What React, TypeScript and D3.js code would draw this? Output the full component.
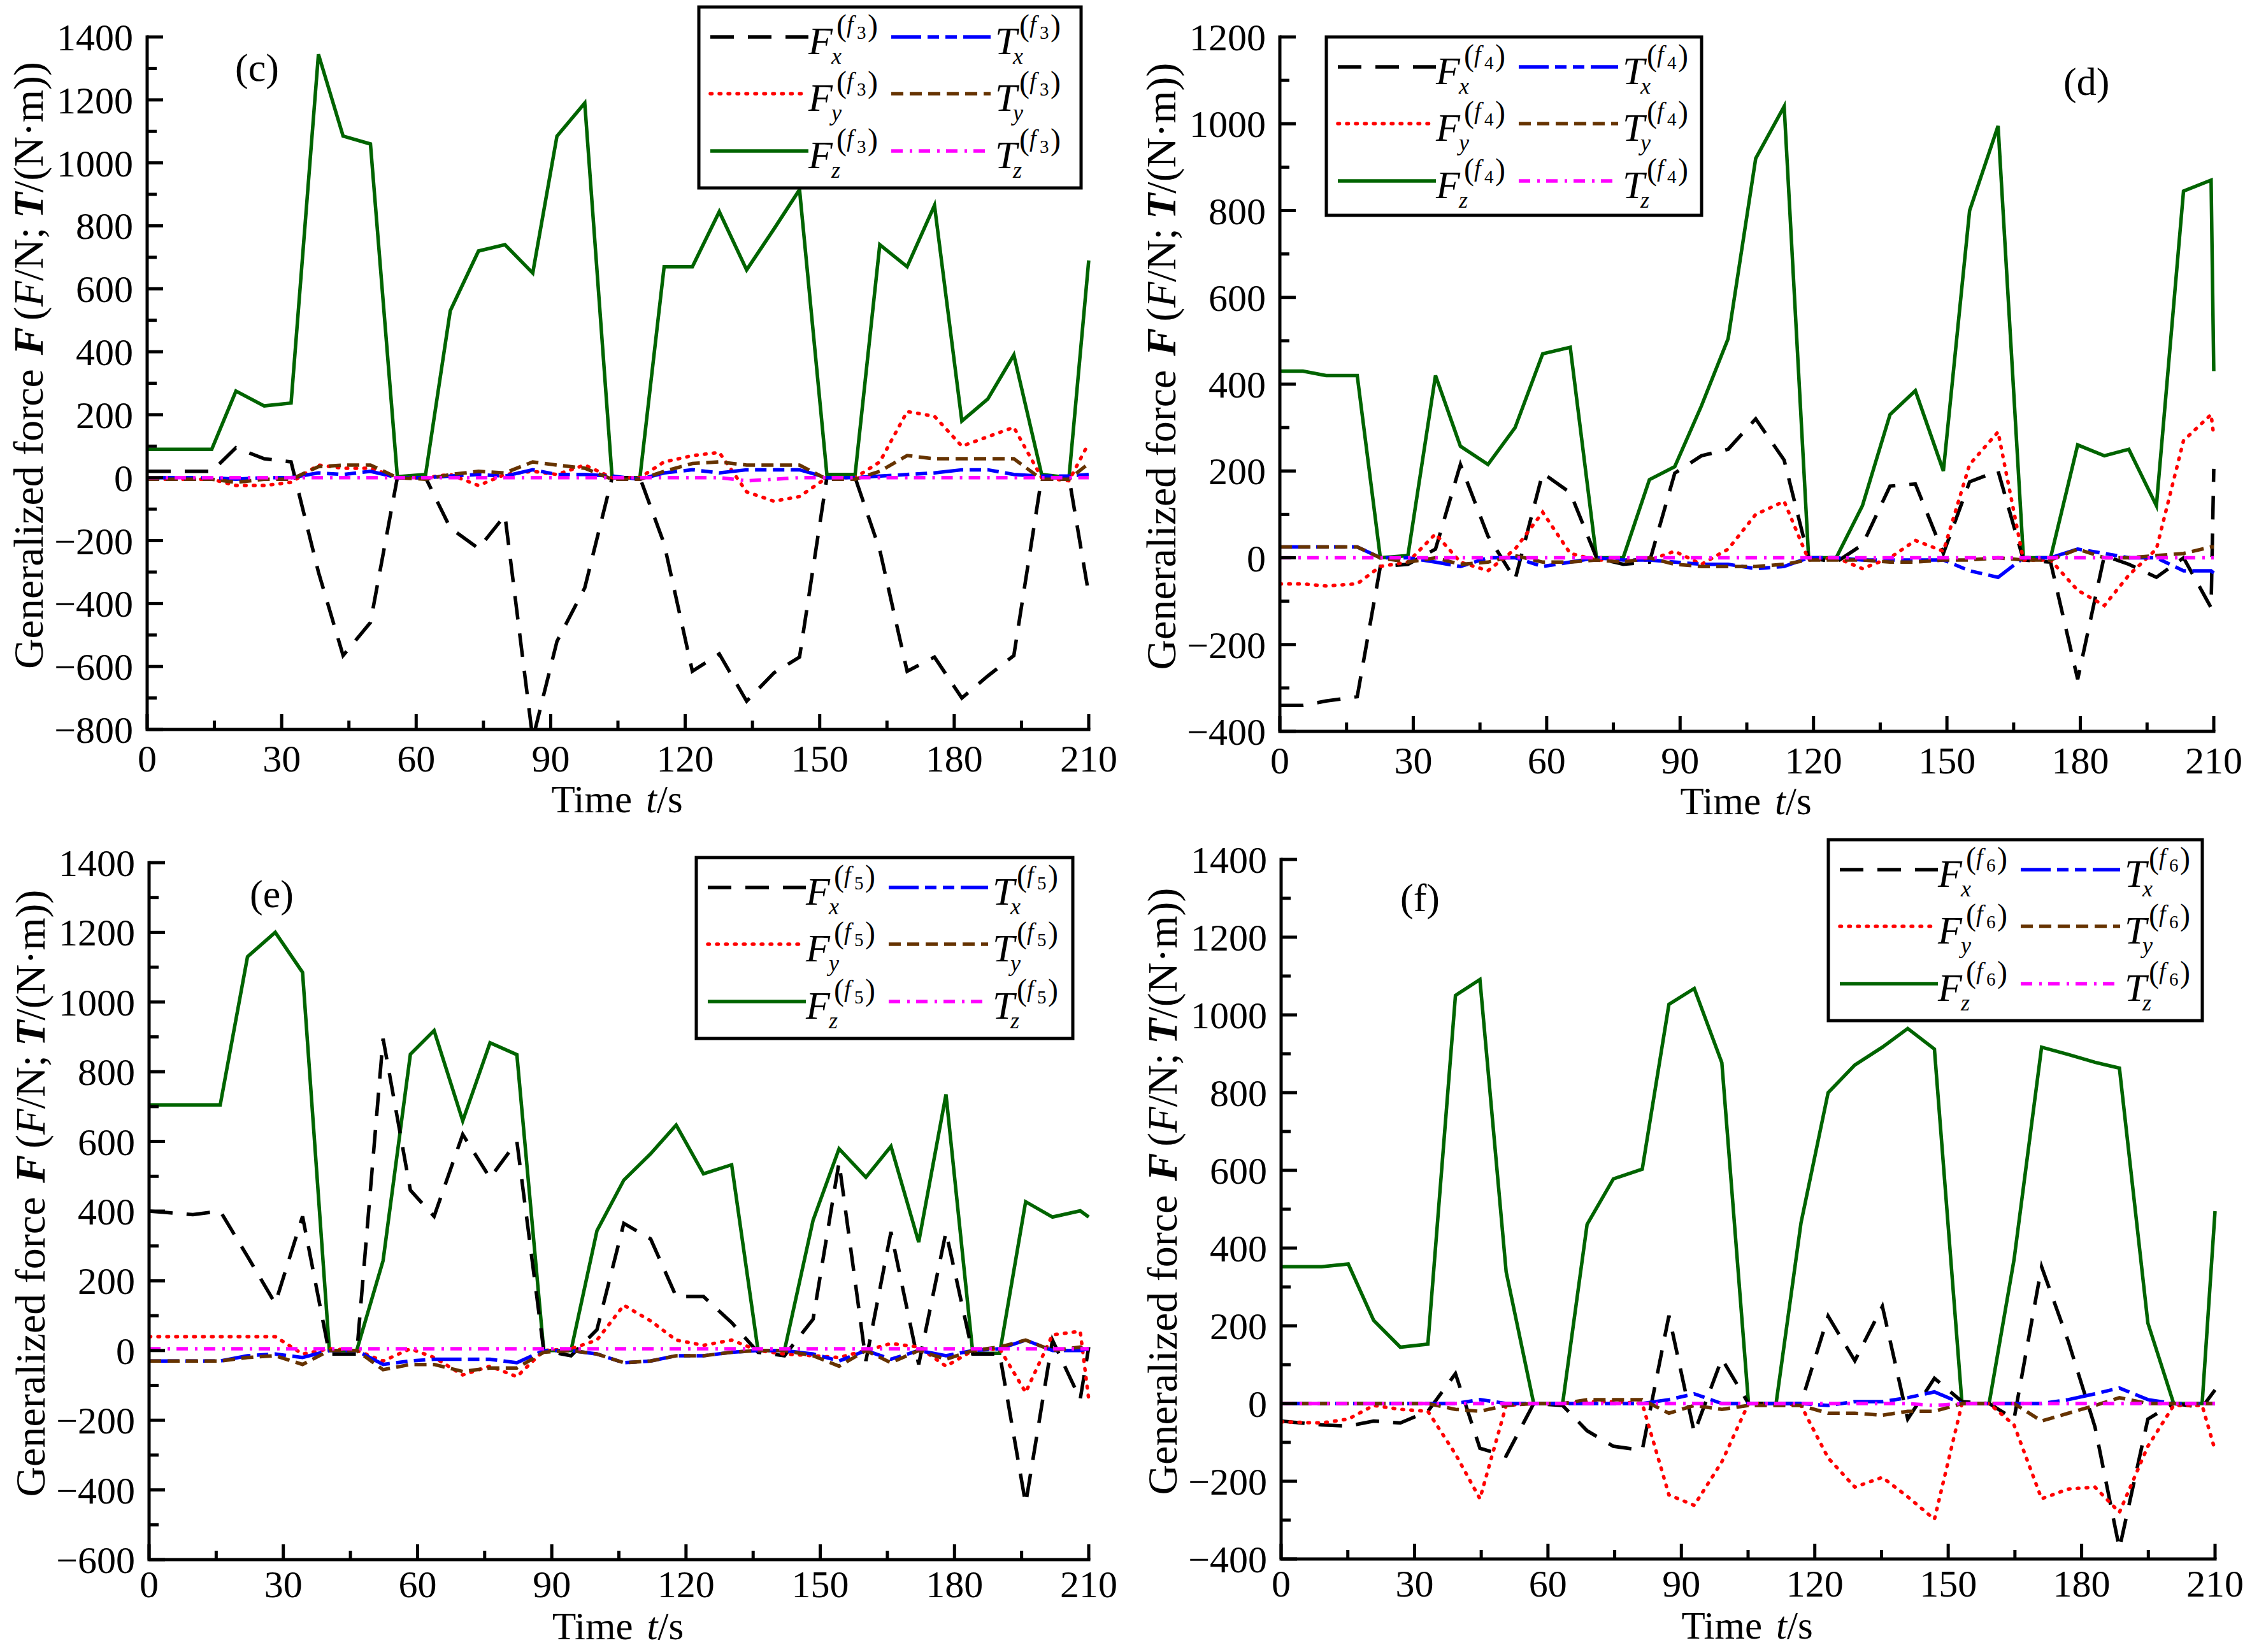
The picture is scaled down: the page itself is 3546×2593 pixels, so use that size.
import React from 'react';
import * as d3 from 'd3';

// ---------- shared axis ticks ----------
const xMajorTicks = [0, 30, 60, 90, 120, 150, 180, 210];
const xMinorTicks = [15, 45, 75, 105, 135, 165, 195];

// ---------- panel (c): f3 ----------
const timeC = [0, 14.4, 19.8, 26.1, 32.1, 38.2, 43.7, 49.8, 55.8, 62.1, 67.6, 73.9, 79.8, 86.0, 91.4, 97.6, 103.7, 109.9, 115.3, 121.6, 127.6, 133.7, 139.8, 145.5, 151.6, 157.9, 163.4, 169.5, 175.6, 181.7, 187.5, 193.3, 199.5, 205.6, 210];
const fzC = [90, 90, 275, 228, 237, 1345, 1085, 1060, 3, 10, 530, 720, 740, 650, 1085, 1190, 0, 0, 670, 670, 845, 660, 790, 915, 10, 10, 740, 670, 865, 180, 250, 390, 10, 0, 690];
const fxC = [20, 20, 95, 60, 50, -300, -565, -460, 0, 0, -160, -225, -120, -830, -520, -350, 0, 0, -210, -615, -560, -710, -620, -570, 0, 0, -230, -615, -570, -700, -630, -565, 0, 0, -370];
const fyC = [-5, -5, -25, -25, -15, 40, 30, 30, 0, 0, 10, -25, 10, 20, 10, 40, 0, 0, 50, 70, 80, -45, -75, -60, 0, 0, 50, 210, 195, 100, 130, 160, 0, -10, 110];
const txC = [0, 0, -5, 0, 0, 15, 10, 20, 0, 0, 5, 10, 5, 25, 10, 10, 5, -5, 15, 25, 15, 25, 25, 25, 0, 0, 5, 10, 15, 25, 25, 10, 5, 5, 10];
const tyC = [-5, -5, -15, -5, -5, 35, 40, 40, 0, -5, 10, 20, 15, 50, 40, 30, -5, -5, 20, 45, 50, 40, 40, 40, -5, -5, 20, 70, 60, 60, 60, 60, -5, -5, 45];
const tzC = [0, 0, 0, 0, 0, 0, 0, 0, 0, 0, 0, 0, 0, 0, 0, 0, 0, 0, 0, 0, 0, -10, -5, 0, 0, 0, 0, 0, 0, 0, 0, 0, 0, 0, 0];

// ---------- panel (d): f4 ----------
const timeD = [0, 5.2, 10.4, 17.4, 22.6, 28.8, 35.0, 40.6, 46.8, 52.9, 59.1, 65.3, 71.2, 77.2, 83.1, 88.8, 94.8, 100.8, 107.0, 113.4, 118.9, 125.1, 131.0, 137.2, 142.9, 149.2, 155.1, 161.5, 167.2, 173.3, 179.4, 185.4, 190.9, 197.1, 203.2, 209.4, 210];
const fzD = [430, 430, 420, 420, 0, 5, 420, 257, 215, 300, 470, 485, 0, 0, 180, 210, 350, 505, 920, 1040, 0, 0, 120, 330, 385, 200, 800, 995, 0, 0, 260, 235, 250, 120, 845, 870, 430];
const fxD = [-340, -340, -330, -320, -20, -15, 20, 215, 50, -50, 195, 150, 0, -15, -10, 195, 235, 250, 320, 225, 0, -10, 30, 165, 170, 10, 175, 200, -5, -10, -280, 5, -15, -45, 0, -115, 205];
const fyD = [-60, -60, -65, -60, -20, -10, 55, -10, -30, 20, 105, 10, -5, -5, -5, 15, -15, 20, 100, 130, -5, 0, -25, 0, 40, 15, 215, 290, -5, -5, -75, -110, -40, 20, 270, 330, 280];
const txD = [25, 25, 25, 25, 0, 0, -10, -20, 0, 0, -20, -10, 0, -5, -5, -10, -15, -15, -25, -20, 0, 0, -5, -5, -5, -5, -30, -45, 0, 0, 20, 10, 0, 0, -30, -30, -35];
const tyD = [25, 25, 25, 25, 0, -10, 0, -15, -10, 5, -10, -10, -5, -10, 0, -15, -20, -20, -20, -15, -5, -5, -5, -10, -10, -5, -5, 0, -5, -5, 20, 0, 0, 5, 10, 25, 25];
const tzD = [0, 0, 0, 0, 0, 0, 0, 0, 0, 0, 0, 0, 0, 0, 0, 0, 0, 0, 0, 0, 0, 0, 0, 0, 0, 0, 0, 0, 0, 0, 0, 0, 0, 0, 0, 0, 0];

// ---------- panel (e): f5 ----------
const timeE = [0, 9.8, 15.9, 22.0, 28.2, 34.3, 40.3, 46.4, 52.3, 58.4, 63.7, 70.1, 76.2, 82.2, 88.2, 94.3, 100.1, 106.1, 112.1, 117.8, 123.9, 130.2, 136.1, 142.0, 148.4, 154.2, 160.2, 165.8, 172.0, 178.1, 184.1, 190.1, 195.9, 201.9, 208.1, 210];
const fzE = [705, 705, 705, 1130, 1200, 1085, 0, 0, 258, 850, 918, 659, 883, 849, 0, 0, 344, 489, 565, 647, 507, 533, 0, 0, 374, 579, 497, 586, 311, 735, -8, -8, 427, 383, 401, 383];
const fxE = [400, 390, 400, 270, 135, 385, -10, -10, 895, 460, 385, 620, 495, 600, 0, -15, 60, 365, 320, 155, 155, 80, -5, -15, 90, 540, -30, 340, -40, 340, -10, -10, -440, 30, -140, 10];
const fyE = [40, 40, 40, 40, 40, -10, 5, 0, -30, 5, -20, -70, -45, -75, 0, 5, 30, 130, 85, 30, 15, 30, 0, -10, -15, -20, 0, 20, 10, -45, 0, 5, -120, 45, 55, -140];
const txE = [-30, -30, -30, -15, -10, -20, 0, 0, -40, -30, -25, -25, -25, -35, 0, 0, -10, -35, -30, -15, -15, -5, 0, 0, -10, -30, 0, -25, 0, -15, 0, 5, 30, 0, 0, 5];
const tyE = [-30, -30, -30, -20, -15, -40, 0, 0, -55, -40, -40, -60, -50, -50, -5, 0, -10, -35, -30, -15, -15, -5, 0, 0, -15, -45, 0, -35, 0, -25, 0, 10, 30, 0, 10, -5];
const tzE = [5, 5, 5, 5, 5, 5, 5, 5, 5, 5, 5, 5, 5, 5, 5, 5, 5, 5, 5, 5, 5, 5, 5, 5, 5, 5, 5, 5, 5, 5, 5, 5, 5, 5, 5, 5];

// ---------- panel (f): f6 ----------
const timeF = [0, 9.1, 15.1, 20.8, 26.8, 33.0, 39.2, 44.7, 50.6, 56.8, 63.3, 68.8, 74.7, 81.2, 87.2, 92.9, 99.1, 105.1, 111.3, 116.9, 123.0, 129.0, 135.2, 140.9, 146.9, 153.1, 159.2, 164.8, 171.0, 177.0, 183.0, 188.5, 194.9, 200.7, 207.1, 210];
const fzF = [352, 352, 359, 214, 145, 153, 1050, 1091, 339, 0, 0, 461, 578, 603, 1027, 1068, 877, 0, 0, 465, 800, 871, 917, 965, 912, 0, 0, 370, 917, 898, 878, 863, 207, 0, 0, 495];
const fxF = [-45, -55, -58, -45, -50, -20, 77, -115, -135, 0, -5, -70, -110, -120, 226, -75, 115, 0, 0, 0, 225, 110, 250, -40, 65, 5, 0, -40, 352, 160, -60, -373, -40, 0, -10, 35];
const fyF = [-47, -50, -40, -5, -15, -20, -130, -245, -5, 0, 0, 5, 5, 0, -235, -262, -150, 0, 0, -5, -140, -215, -190, -240, -298, 0, 0, -55, -245, -220, -215, -280, -110, -5, -5, -120];
const txF = [0, 0, 0, 0, 0, 0, 0, 10, 0, 0, 0, 0, 0, 0, 10, 25, 0, 0, 0, 0, -5, 5, 5, 15, 30, 0, 0, 0, 0, 10, 25, 40, 10, 0, 0, 0];
const tyF = [0, 0, 0, 0, 0, 0, -15, -20, -5, 0, 0, 10, 10, 10, -25, -5, -15, -5, -5, -5, -25, -25, -30, -20, -20, 0, 0, 0, -45, -25, -5, 15, 0, 0, 0, 0];
const tzF = [0, 0, 0, 0, 0, 0, 0, 0, 0, 0, 0, 0, 0, 0, 0, 0, 0, 0, 0, 0, 0, 0, 0, 0, -5, 0, 0, 0, 0, 0, 0, 0, 0, 0, 0, 0];

// ---------- styles ----------
const FONT = '"Liberation Serif", "Times New Roman", Times, serif';
type SeriesStyle = { color: string; dash: string | null; cap: 'butt' | 'round'; base: string; sub: string };
const seriesStyle: Record<string, SeriesStyle> = {
  fx: { color: '#000000', dash: '37,22', cap: 'butt', base: 'F', sub: 'x' },
  fy: { color: '#ff0000', dash: '2.5,11.5', cap: 'round', base: 'F', sub: 'y' },
  fz: { color: '#006400', dash: null, cap: 'butt', base: 'F', sub: 'z' },
  tx: { color: '#0000ff', dash: '47,10,18,10,18,10', cap: 'butt', base: 'T', sub: 'x' },
  ty: { color: '#663300', dash: '19,10', cap: 'butt', base: 'T', sub: 'y' },
  tz: { color: '#ff00ff', dash: '18,11,4,10', cap: 'butt', base: 'T', sub: 'z' },
};
const drawOrder = ['fz', 'fx', 'fy', 'tx', 'ty', 'tz'];
const legendRows = [['fx', 'tx'], ['fy', 'ty'], ['fz', 'tz']];

const panels = [
  {
    id: 'c', tag: '(c)', idx: '3', time: timeC,
    data: { fx: fxC, fy: fyC, fz: fzC, tx: txC, ty: tyC, tz: tzC } as Record<string, number[]>,
    yMin: -800, yMax: 1400,
    frame: { left: 231, right: 1709, top: 58, bottom: 1145 },
    legend: { x: 1097, y: 11, w: 600, h: 284 },
    tagPos: { x: 369, y: 127 }, xLabDy: 66, titleDy: 130,
  },
  {
    id: 'd', tag: '(d)', idx: '4', time: timeD,
    data: { fx: fxD, fy: fyD, fz: fzD, tx: txD, ty: tyD, tz: tzD } as Record<string, number[]>,
    yMin: -400, yMax: 1200,
    frame: { left: 2009, right: 3475, top: 58, bottom: 1148 },
    legend: { x: 2082, y: 58, w: 589, h: 280 },
    tagPos: { x: 3239, y: 149 }, xLabDy: 66, titleDy: 130,
  },
  {
    id: 'e', tag: '(e)', idx: '5', time: timeE,
    data: { fx: fxE, fy: fyE, fz: fzE, tx: txE, ty: tyE, tz: tzE } as Record<string, number[]>,
    yMin: -600, yMax: 1400,
    frame: { left: 234, right: 1709, top: 1354, bottom: 2448 },
    legend: { x: 1093, y: 1346, w: 591, h: 284 },
    tagPos: { x: 392, y: 1424 }, xLabDy: 59, titleDy: 125,
  },
  {
    id: 'f', tag: '(f)', idx: '6', time: timeF,
    data: { fx: fxF, fy: fyF, fz: fzF, tx: txF, ty: tyF, tz: tzF } as Record<string, number[]>,
    yMin: -400, yMax: 1400,
    frame: { left: 2011, right: 3477, top: 1349, bottom: 2447 },
    legend: { x: 2870, y: 1318, w: 587, h: 284 },
    tagPos: { x: 2198, y: 1430 }, xLabDy: 59, titleDy: 125,
  },
];

const fmt = (v: number) => (v < 0 ? '\u2212' + Math.abs(v) : String(v));

function SymLabel({ x, y, base, sub, idx }: { x: number; y: number; base: string; sub: string; idx: string }) {
  const s = base === 'T' ? -6 : 0;
  return (
    <g>
      <text x={x} y={y} fontSize={62} fontStyle="italic">{base}</text>
      <text x={x + 36 + (base === 'T' ? -8 : 0)} y={y + 15} fontSize={36} fontStyle="italic">{sub}</text>
      <text x={x + 44 + s} y={y - 29} fontSize={48}>(</text>
      <text x={x + 60 + s} y={y - 34} fontSize={38} fontStyle="italic">f</text>
      <text x={x + 76 + s} y={y - 24} fontSize={29}>{idx}</text>
      <text x={x + 93 + s} y={y - 29} fontSize={48}>)</text>
    </g>
  );
}

function Panel({ p }: { p: (typeof panels)[number] }) {
  const { frame } = p;
  const xs = d3.scaleLinear().domain([0, 210]).range([frame.left, frame.right]);
  const ys = d3.scaleLinear().domain([p.yMin, p.yMax]).range([frame.bottom, frame.top]);
  const yMajor = d3.range(p.yMin, p.yMax + 1, 200);
  const yMinor = d3.range(p.yMin + 100, p.yMax, 200);
  const clipId = 'clip-' + p.id;
  const line = d3
    .line<number>()
    .x((_, i) => xs(p.time[i]))
    .y((d) => ys(d));
  const rowOffsets = [47, 136, 226];
  const midY = (frame.top + frame.bottom) / 2;
  const midX = (frame.left + frame.right) / 2;
  return (
    <g>
      <defs>
        <clipPath id={clipId}>
          <rect x={frame.left} y={frame.top - 20} width={frame.right - frame.left + 4} height={frame.bottom - frame.top + 20} />
        </clipPath>
      </defs>
      {/* data */}
      <g clipPath={`url(#${clipId})`} fill="none" strokeWidth={5.5} strokeLinejoin="miter">
        {drawOrder.map((k) => (
          <path
            key={k}
            d={line(p.data[k]) || ''}
            stroke={seriesStyle[k].color}
            strokeLinecap={seriesStyle[k].cap}
            strokeDasharray={seriesStyle[k].dash || undefined}
          />
        ))}
      </g>
      {/* axes */}
      <g stroke="#000" strokeWidth={5} fill="none">
        <path d={`M${frame.left},${frame.top}V${frame.bottom}H${frame.right}`} strokeLinecap="square" />
        {yMajor.map((v) => (
          <line key={'ym' + v} x1={frame.left} x2={frame.left + 25} y1={ys(v)} y2={ys(v)} />
        ))}
        {yMinor.map((v) => (
          <line key={'yn' + v} x1={frame.left} x2={frame.left + 15} y1={ys(v)} y2={ys(v)} />
        ))}
        {xMajorTicks.map((v) => (
          <line key={'xm' + v} x1={xs(v)} x2={xs(v)} y1={frame.bottom} y2={frame.bottom - 24} />
        ))}
        {xMinorTicks.map((v) => (
          <line key={'xn' + v} x1={xs(v)} x2={xs(v)} y1={frame.bottom} y2={frame.bottom - 14} />
        ))}
      </g>
      {/* tick labels */}
      <g fontSize={60} fill="#000">
        {yMajor.map((v) => (
          <text key={'yl' + v} x={frame.left - 22} y={ys(v) + 21} textAnchor="end">{fmt(v)}</text>
        ))}
        {xMajorTicks.map((v) => (
          <text key={'xl' + v} x={xs(v)} y={frame.bottom + p.xLabDy} textAnchor="middle">{fmt(v)}</text>
        ))}
      </g>
      {/* axis titles */}
      <text x={midX + 22} y={frame.bottom + p.titleDy} fontSize={61} textAnchor="end">Time</text>
      <text x={midX + 44} y={frame.bottom + p.titleDy} fontSize={61} textAnchor="start">
        <tspan fontStyle="italic">t</tspan>/s
      </text>
      <text transform={`translate(${frame.left - 164},${midY - 28}) rotate(-90)`} fontSize={66} textAnchor="middle">
        Generalized force
        <tspan dx={22} fontStyle="italic" fontWeight="bold">F</tspan>
        <tspan dx={10}>(</tspan>
        <tspan fontStyle="italic">F</tspan>
        <tspan>/N;</tspan>
        <tspan dx={14} fontStyle="italic" fontWeight="bold">T</tspan>
        <tspan>/(N·m))</tspan>
      </text>
      {/* panel tag */}
      <text x={p.tagPos.x} y={p.tagPos.y} fontSize={62}>{p.tag}</text>
      {/* legend */}
      <g>
        <rect x={p.legend.x} y={p.legend.y} width={p.legend.w} height={p.legend.h} fill="#fff" stroke="#000" strokeWidth={5} />
        {legendRows.map((row, ri) => {
          const ly = p.legend.y + rowOffsets[ri];
          return (
            <g key={ri}>
              {row.map((k, ci) => {
                const st = seriesStyle[k];
                const x0 = p.legend.x + (ci === 0 ? 18 : 302);
                const x1 = p.legend.x + (ci === 0 ? 172 : 458);
                const lx = p.legend.x + (ci === 0 ? 172 : 465);
                return (
                  <g key={k}>
                    <line x1={x0} x2={x1} y1={ly} y2={ly} stroke={st.color} strokeWidth={5.5} strokeLinecap={st.cap} strokeDasharray={st.dash || undefined} />
                    <SymLabel x={lx} y={ly + 27} base={st.base} sub={st.sub} idx={p.idx} />
                  </g>
                );
              })}
            </g>
          );
        })}
      </g>
    </g>
  );
}

export default function App() {
  return (
    <svg
      width={3546}
      height={2593}
      viewBox="0 0 3546 2593"
      style={{ position: 'absolute', left: 0, top: 0, background: '#fff', display: 'block' }}
      fontFamily={FONT}
    >
      <rect x={0} y={0} width={3546} height={2593} fill="#fff" />
      {panels.map((p) => (
        <Panel key={p.id} p={p} />
      ))}
    </svg>
  );
}
